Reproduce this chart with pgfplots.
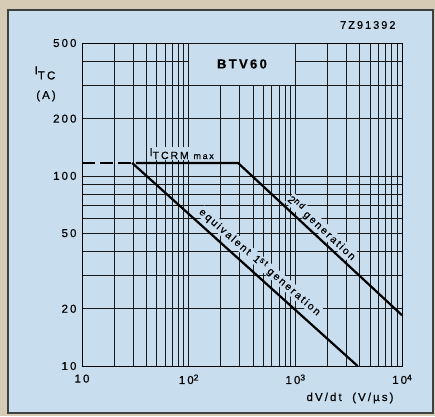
\documentclass[border=0pt]{standalone}
\usepackage{pgfplots}
\pgfplotsset{compat=1.18}
\usepackage{fontspec}
\setmainfont{Liberation Sans}[LetterSpace=18,FakeBold=0.6]
\definecolor{bg}{RGB}{200,222,238}
\definecolor{strip}{RGB}{214,204,182}
\newcommand{\supr}[1]{\raisebox{3.5pt}{\fontsize{8.5}{10}\selectfont #1}}
\begin{document}
\begin{tikzpicture}[x=1pt,y=1pt]
\useasboundingbox (0,0) rectangle (435,416);
\fill[strip] (0,0) rectangle (435,416);
\fill[bg] (8,3) rectangle (433,406);
\draw[black!75, line width=1.4pt] (8,3) rectangle (433,406);
\begin{axis}[
  at={(82pt,50pt)}, anchor=south west, scale only axis,
  width=320pt, height=323pt,
  xmode=log, ymode=log,
  xmin=10, xmax=10000, ymin=10, ymax=500,
  xtick={10,100,1000,10000},
  xticklabels={10,10\supr{2},10\supr{3},10\supr{4}},
  ytick={10,20,50,100,200,500},
  yticklabels={10,20,50,100,200,500},
  minor xtick={20,30,40,50,60,70,80,90,200,300,400,500,600,700,800,900,2000,3000,4000,5000,6000,7000,8000,9000},
  minor ytick={30,40,60,70,80,90,300,400},
  grid=both,
  major grid style={black!90, line width=0.6pt},
  minor grid style={black!90, line width=0.6pt},
  axis line style={black, line width=0.8pt},
  major tick length=0pt, minor tick length=0pt,
  tick style={draw=none},
  ticklabel style={font=\fontsize{11.5}{14}\selectfont},
  xticklabel style={yshift=-5pt},
  yticklabel style={xshift=-2pt},
  /pgf/number format/assume math mode=true,
  clip=false,
]
\fill[bg] (axis cs:100,300) rectangle (axis cs:1000,500);
\draw[black!90, line width=0.6pt] (axis cs:100,300) rectangle (axis cs:1000,500);
\node[font=\fontsize{13}{16}\selectfont\bfseries] at (axis cs:316,388) {BTV60};

\addplot[black, line width=2.2pt, dash pattern=on 13pt off 5pt] coordinates {(10,117) (29.3,117)};
\addplot[black, line width=2.2pt] coordinates {(32,117) (290,117) (10000,18.5)};
\addplot[black, line width=2.2pt] coordinates {(29.5,117) (3835,10)};

\node[fill=bg, inner sep=0.8pt, anchor=south] at (axis cs:86,121)
  {\fontsize{11.5}{13}\selectfont I\raisebox{-3pt}{\fontsize{10.5}{12}\selectfont TCRM\ {\fontsize{9}{10}\selectfont max}}};
\node[fill=bg, inner sep=0.5pt, rotate=-43, font=\fontsize{10.5}{13}\selectfont] at (axis cs:1776,53.3)
  {2\supr{nd} generation};
\node[fill=bg, inner sep=0.5pt, rotate=-41, font=\fontsize{10.5}{13}\selectfont] at (axis cs:466,35.3)
  {equivalent \,1\supr{st} generation};
\end{axis}
\node[anchor=east, font=\fontsize{11}{13}\selectfont] at (399,391) {7Z91392};
\node[font=\fontsize{11.5}{14}\selectfont] at (45,343) {I\raisebox{-5pt}{TC}};
\node[font=\fontsize{11.5}{14}\selectfont] at (46,320) {(A)};
\node[anchor=east, font=\fontsize{11.5}{14}\selectfont] at (397,18) {dV/dt \ (V/\textmu s)};
\end{tikzpicture}
\end{document}
